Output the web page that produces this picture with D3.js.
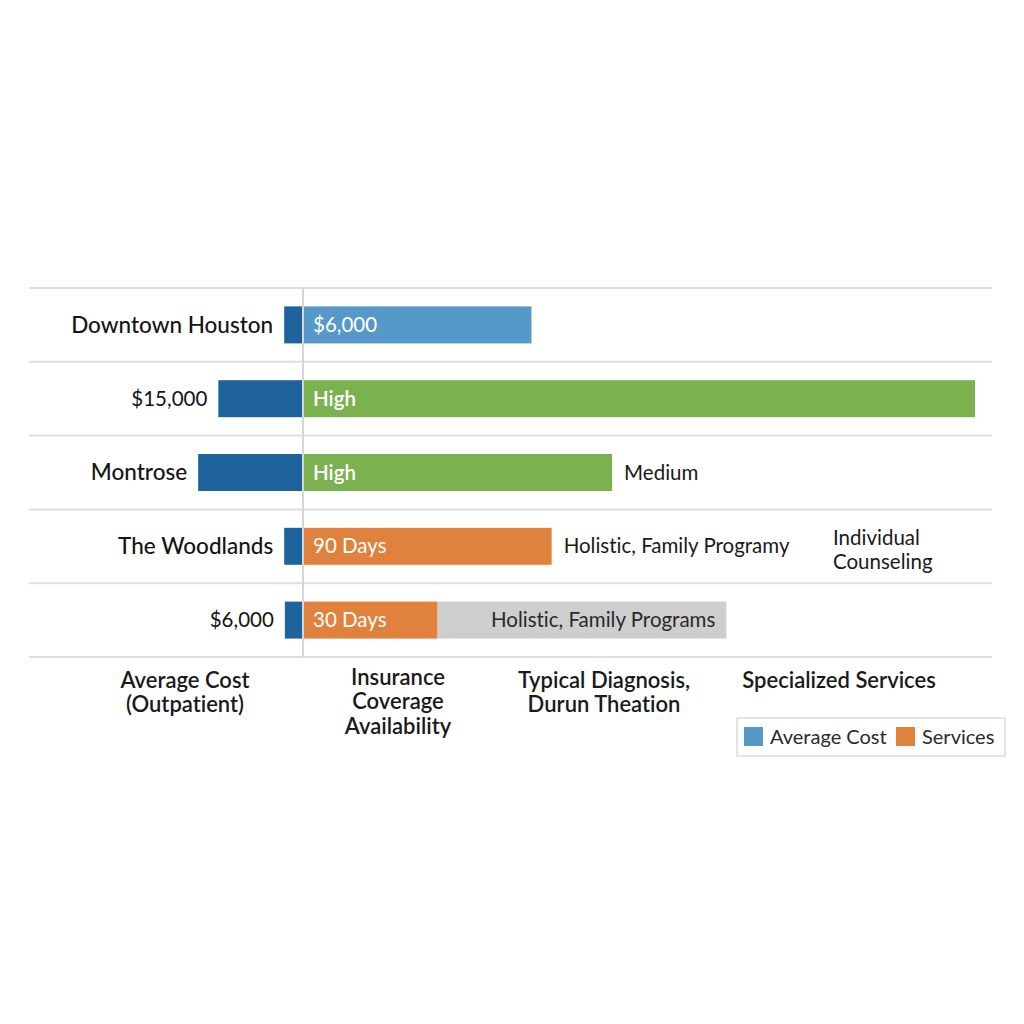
<!DOCTYPE html>
<html><head><meta charset="utf-8">
<script src="https://cdn.jsdelivr.net/npm/d3@7/dist/d3.min.js"></script>
<style>
body{margin:0;background:#fff;}
svg{display:block;font-family:Lato,"Open Sans",sans-serif;font-variant-ligatures:none;font-feature-settings:"liga" 0,"dlig" 0;}
</style></head>
<body>
<script>
const categories = ["Downtown Houston", "$15,000", "Montrose", "The Woodlands", "$6,000"];
const categoryIsName = [true, false, true, true, false];
const costValues = [2.8, 12.6, 15.6, 2.8, 2.7];
const primaryValues = [34, 100, 46, 37, 20];
const primaryLabels = ["$6,000", "High", "High", "90 Days", "30 Days"];
const primaryKinds = ["cost", "coverage", "coverage", "duration", "duration"];
const secondaryValues = [0, 0, 0, 0, 43];
const secondaryLabels = ["", "", "", "", "Holistic, Family Programs"];
const outsideLabels = ["", "", "Medium", "Holistic, Family Programy", ""];
const serviceLabels = ["", "", "", "Individual|Counseling", ""];
const columnHeaders = ["Average Cost|(Outpatient)", "Insurance|Coverage|Availability", "Typical Diagnosis,|Durun Theation", "Specialized Services"];
const legendItems = ["Average Cost", "Services"];

const W = 1024, H = 1024;
const svg = d3.select("body").append("svg").attr("width", W).attr("height", H);

const x = d3.scaleLinear().domain([0, 100]).range([303, 975]);
const y = d3.scaleBand().domain(d3.range(categories.length)).range([288, 657]);
const barH = 37;
const fs = 20.5;
const colors = {leftCost: "#1e639c", cost: "#5699c8", coverage: "#7bb24f", duration: "#e0823d", grey: "#cecece"};

// gridlines
const gridY = d3.range(categories.length + 1).map(i => i === categories.length ? y.range()[1] : y(i));
svg.selectAll("line.grid").data(gridY).join("line")
  .attr("x1", 29).attr("x2", 992).attr("y1", d => d).attr("y2", d => d)
  .attr("stroke", "#dedede").attr("stroke-width", 2);
svg.append("line").attr("x1", x(0)).attr("x2", x(0)).attr("y1", 288).attr("y2", 657)
  .attr("stroke", "#d6d6d6").attr("stroke-width", 2);

const rows = svg.selectAll("g.row").data(categories).join("g").attr("class", "row");
const cy = i => y(i) + y.bandwidth() / 2;

// left bars
rows.append("rect")
  .attr("x", (d, i) => x(-costValues[i]))
  .attr("width", (d, i) => x(0) - 1 - x(-costValues[i]))
  .attr("y", (d, i) => cy(i) - barH / 2).attr("height", barH)
  .attr("fill", colors.leftCost);

// left labels
rows.append("text")
  .attr("x", (d, i) => x(-costValues[i]) - 11)
  .attr("y", (d, i) => cy(i)).attr("dy", "0.35em")
  .attr("text-anchor", "end")
  .attr("font-size", (d, i) => categoryIsName[i] ? 22.5 : fs)
  .attr("font-weight", (d, i) => categoryIsName[i] ? 500 : 400)
  .attr("fill", "#141414")
  .text(d => d);

// secondary grey segment
rows.filter((d, i) => secondaryValues[i] > 0).append("rect")
  .attr("x", d => x(primaryValues[categories.indexOf(d)]))
  .attr("width", d => { const i = categories.indexOf(d); return x(primaryValues[i] + secondaryValues[i]) - x(primaryValues[i]); })
  .attr("y", d => cy(categories.indexOf(d)) - barH / 2).attr("height", barH)
  .attr("fill", colors.grey);

// primary bars
rows.append("rect")
  .attr("x", x(0) + 1)
  .attr("width", (d, i) => x(primaryValues[i]) - x(0) - 1)
  .attr("y", (d, i) => cy(i) - barH / 2).attr("height", barH)
  .attr("fill", (d, i) => colors[primaryKinds[i]]);

rows.append("text")
  .attr("x", x(0) + 10)
  .attr("y", (d, i) => cy(i)).attr("dy", "0.35em")
  .attr("font-size", fs).attr("fill", "#fff")
  .attr("font-weight", (d, i) => primaryKinds[i] === "coverage" ? 600 : 400)
  .text((d, i) => primaryLabels[i]);

// grey labels
rows.append("text")
  .attr("x", (d, i) => x(primaryValues[i] + secondaryValues[i]) - 11)
  .attr("y", (d, i) => cy(i)).attr("dy", "0.35em")
  .attr("text-anchor", "end").attr("font-size", fs).attr("fill", "#2a2a2a")
  .text((d, i) => secondaryLabels[i]);

// outside labels
rows.append("text")
  .attr("x", (d, i) => x(primaryValues[i]) + 12)
  .attr("y", (d, i) => cy(i)).attr("dy", "0.35em")
  .attr("font-size", fs).attr("fill", "#1a1a1a")
  .text((d, i) => outsideLabels[i]);

// service labels (Specialized Services column)
rows.each(function(d, i) {
  if (!serviceLabels[i]) return;
  const lines = serviceLabels[i].split("|");
  const t = d3.select(this).append("text")
    .attr("x", 833).attr("y", cy(i) - 8)
    .attr("font-size", fs).attr("fill", "#1a1a1a");
  lines.forEach((l, k) => t.append("tspan").attr("x", 833).attr("dy", k === 0 ? "0.35em" : 24).text(l));
});

// column headers
const headerX = [185, 398, 604, 839];
columnHeaders.forEach((h, j) => {
  const lines = h.split("|");
  const t = svg.append("text").attr("x", headerX[j]).attr("y", lines.length === 3 ? 677 : 680)
    .attr("text-anchor", "middle").attr("font-size", 22).attr("font-weight", 600).attr("fill", "#1a1a1a");
  lines.forEach((l, k) => t.append("tspan").attr("x", headerX[j]).attr("dy", k === 0 ? "0.35em" : 24.5).text(l));
});

// legend
const lg = svg.append("g");
lg.append("rect").attr("x", 737).attr("y", 718).attr("width", 268).attr("height", 38)
  .attr("fill", "#fff").attr("stroke", "#dcdcdc").attr("stroke-width", 1.5);
const legendColors = [colors.cost, colors.duration];
const legendX = [744, 896];
legendItems.forEach((name, k) => {
  lg.append("rect").attr("x", legendX[k]).attr("y", 727).attr("width", 19).attr("height", 19).attr("fill", legendColors[k]);
  lg.append("text").attr("x", legendX[k] + 26).attr("y", 737).attr("dy", "0.35em")
    .attr("font-size", 20).attr("fill", "#2a2a2a").text(name);
});
</script>
</body></html>
